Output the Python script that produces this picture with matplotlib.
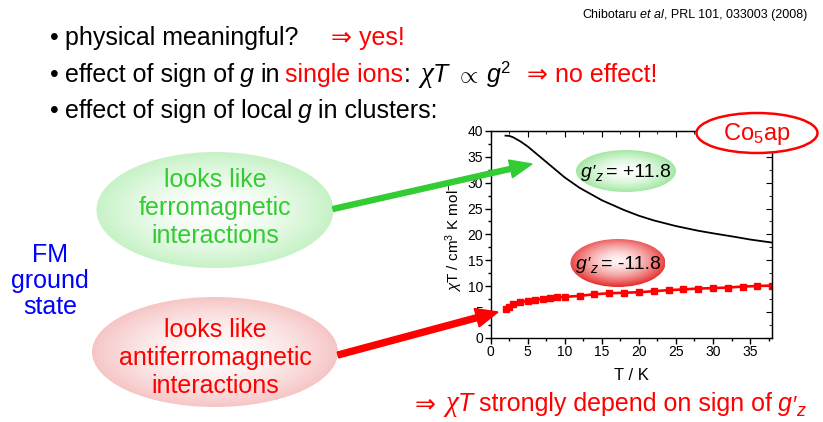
import numpy as np
import matplotlib
matplotlib.use('Agg')
import matplotlib.pyplot as plt
from matplotlib.patches import Ellipse, FancyArrow
from matplotlib.colors import to_rgb
from matplotlib.ticker import MultipleLocator

plt.rcParams['font.family'] = ['Liberation Sans', 'DejaVu Sans']
plt.rcParams['mathtext.fontset'] = 'custom'
plt.rcParams['mathtext.rm'] = 'Liberation Sans'
plt.rcParams['mathtext.it'] = 'Liberation Sans:italic'
plt.rcParams['mathtext.bf'] = 'Liberation Sans:bold'

# chiT for g'z = +11.8 (black curve)
T_pos = [2, 2.5, 3, 4, 5, 6, 7, 8, 10, 12, 15, 18, 20, 22, 25, 28, 30, 33, 35, 38]
chiT_pos = [39.1, 39.05, 38.8, 38.0, 37.0, 35.8, 34.6, 33.4, 31.0, 29.0, 26.6, 24.7,
            23.6, 22.7, 21.6, 20.7, 20.2, 19.5, 19.0, 18.4]

# chiT for g'z = -11.8 (red squares)
T_neg = [2, 2.5, 3, 4, 5, 6, 7, 8, 9, 10, 12, 14, 16, 18, 20, 22, 24, 26, 28, 30,
         32, 34, 36, 38]
chiT_neg = [5.5, 5.9, 6.5, 6.9, 7.1, 7.3, 7.5, 7.6, 7.8, 7.9, 8.1, 8.4, 8.6, 8.7,
            8.8, 9.0, 9.2, 9.35, 9.5, 9.6, 9.7, 9.9, 10.0, 10.1]

x_ticks = [0, 5, 10, 15, 20, 25, 30, 35]
y_ticks = [0, 5, 10, 15, 20, 25, 30, 35, 40]

W, H = 823, 422
fig = plt.figure(figsize=(W / 100, H / 100), dpi=100)

# data panel
ax = fig.add_axes([490.7 / W, 1 - 337.7 / H, 281.6 / W, 206.7 / H])
ax.plot(T_pos, chiT_pos, color='black', lw=1.3)
ax.plot(T_neg, chiT_neg, color='red', lw=1.9, marker='s', ms=4.8)
ax.set_xlim(0, 38)
ax.set_ylim(0, 40)
ax.set_xticks(x_ticks)
ax.set_yticks(y_ticks)
ax.xaxis.set_minor_locator(MultipleLocator(2.5))
ax.yaxis.set_minor_locator(MultipleLocator(2.5))
ax.tick_params(which='major', direction='out', length=4, width=1, labelsize=10, pad=1.5)
ax.tick_params(which='minor', direction='out', length=2, width=1)
for sp in ax.spines.values():
    sp.set_linewidth(1)

top = ax.secondary_xaxis('top')
top.set_xticks(x_ticks)
top.xaxis.set_minor_locator(MultipleLocator(2.5))
top.tick_params(axis='x', which='major', direction='in', length=4, labeltop=False)
top.tick_params(axis='x', which='minor', direction='in', length=2)
right = ax.secondary_yaxis('right')
right.set_yticks(y_ticks)
right.yaxis.set_minor_locator(MultipleLocator(2.5))
right.tick_params(axis='y', which='major', direction='in', length=4, labelright=False)
right.tick_params(axis='y', which='minor', direction='in', length=2)

ax.set_xlabel('T / K', fontsize=12, labelpad=6)
ax.set_ylabel(r'$\chi$T / cm$^3$ K mol$^{-1}$', fontsize=11, labelpad=2)

# overlay in pixel units
ov = fig.add_axes([0, 0, 1, 1], zorder=5)
ov.axis('off')
ov.set_xlim(0, W)
ov.set_ylim(H, 0)
ov.set_autoscale_on(False)


def grad_ellipse(cx, cy, w, h, edge, center='white', dx=0.0, dy=0.0, z=1):
    e = Ellipse((cx, cy), w, h, facecolor='none', edgecolor='none')
    ov.add_patch(e)
    yy, xx = np.mgrid[-1:1:200j, -1:1:200j]
    r = np.clip(np.hypot(xx - dx, yy - dy) / 1.1, 0, 1)
    t = (r ** 1.6)[..., None]
    img = (1 - t) * np.array(to_rgb(center)) + t * np.array(to_rgb(edge))
    im = ov.imshow(img, extent=(cx - w / 2, cx + w / 2, cy + h / 2, cy - h / 2),
                   aspect='auto', interpolation='bilinear', zorder=z)
    im.set_clip_path(e)


def seq_text(x, y, parts, size, anchor='left', color='black'):
    # lay out text pieces one after another on a common baseline (pixel units)
    rend = fig.canvas.get_renderer()
    x0 = x
    texts = []
    for p in parts:
        if isinstance(p, (int, float)):
            x += p
            continue
        s, kw = p[0], dict(p[1])
        dy = kw.pop('dy', 0)
        fsz = kw.pop('size', size)
        kw.setdefault('color', color)
        t = ov.text(x, y + dy, s, fontsize=fsz, va='baseline', ha='left', zorder=6, **kw)
        x += t.get_window_extent(rend).width
        texts.append(t)
    total = x - x0
    shift = {'left': 0, 'right': -total, 'center': -total / 2}[anchor]
    for t in texts:
        t.set_x(t.get_position()[0] + shift)
    return texts


RED = '#ff0000'
GREEN = '#33cc33'
ital = dict(fontstyle='italic')
chi = dict(family=['Liberation Serif', 'DejaVu Serif'], fontstyle='italic', size=21)


def gz(size):
    return [('g', ital), ('′', dict(fontstyle='italic', size=size * 0.9)),
            ('z', dict(fontstyle='italic', size=size * 0.72, dy=size * 0.3))]


# header
seq_text(807, 18, [('Chibotaru', {}), 3, ('et al', ital), (', PRL 101, 033003 (2008)', {})],
         9, anchor='right')

# bullets
fs = 18
for yb in (45, 82, 118):
    ov.text(50, yb, '•', fontsize=fs, va='baseline', ha='left')
seq_text(65, 45, [('physical meaningful?', {}), 33, ('⇒ yes!', dict(color=RED))], fs)
seq_text(65, 82, [('effect of sign of', {}), 6, ('g', ital), 6, ('in', {}), 6,
                  ('single ions', dict(color=RED)), (':', {}), 10,
                  ('χ', chi), ('T', ital), 8, (r'$\propto$', dict(size=17)), 7,
                  ('g', ital), ('2', dict(size=12, dy=-9)), 17,
                  ('⇒ no effect!', dict(color=RED))], fs)
seq_text(65, 118, [('effect of sign of local', {}), 6, ('g', ital), 6, ('in clusters:', {})], fs)

# left side bubbles
grad_ellipse(215, 210, 237, 116, '#bdf0bd')
grad_ellipse(215, 352, 246, 110, '#f5bcbc')
ov.text(215, 208, 'looks like\nferromagnetic\ninteractions', fontsize=18, color=GREEN,
        ha='center', va='center', linespacing=1.22, zorder=6)
ov.text(215, 358, 'looks like\nantiferromagnetic\ninteractions', fontsize=18, color=RED,
        ha='center', va='center', linespacing=1.2, zorder=6)
ov.text(50, 281, 'FM\nground\nstate', fontsize=18, color='#0000ff',
        ha='center', va='center', linespacing=1.12, zorder=6)

# arrows
ov.add_patch(FancyArrow(333, 209, 532 - 333, 164 - 209, width=5, head_width=18,
                        head_length=22, length_includes_head=True, color=GREEN, zorder=7))
ov.add_patch(FancyArrow(338, 355, 498 - 338, 312 - 355, width=6, head_width=19,
                        head_length=22, length_includes_head=True, color=RED, zorder=7))

# labels inside the panel
grad_ellipse(626, 171, 100, 42, '#94e494')
grad_ellipse(618, 263, 95, 48, '#e62828', center='#fff4f4', dy=-0.1)
seq_text(626, 177, gz(14) + [4, ('= +11.8', {})], 14, anchor='center')
seq_text(618, 269, gz(14) + [4, ('= -11.8', {})], 14, anchor='center')

ov.add_patch(Ellipse((757, 133), 121, 40, facecolor='white', edgecolor=RED, lw=1.8, zorder=5))
ov.text(757, 134, r'Co$_5$ap', fontsize=17, color=RED, ha='center', va='center', zorder=6)

# conclusion
seq_text(415, 411, [('⇒', {}), 9, ('χ', chi), ('T', ital), 6,
                    ('strongly depend on sign of', {}), 6] + gz(18), 18, color=RED)

fig.savefig('out.png', dpi=100)
